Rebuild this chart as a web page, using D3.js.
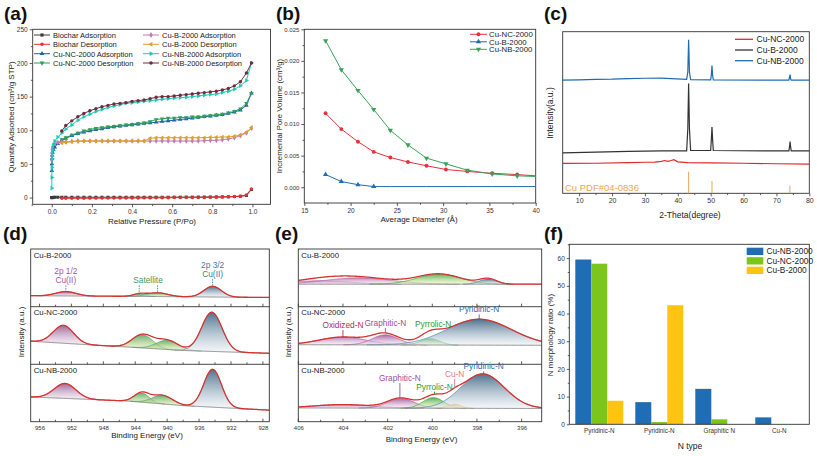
<!DOCTYPE html>
<html>
<head>
<meta charset="utf-8">
<script src="https://cdn.jsdelivr.net/npm/d3@7"></script>
<style>
  body { margin: 0; background: #fff; }
  text { font-family: Arial, "Liberation Sans", sans-serif; }
</style>
</head>
<body>
<svg id="fig" width="817" height="456"></svg>
<script>
// ---------- (a) N2 isotherms ----------
const pAds = [0.0002,0.0005,0.001,0.002,0.004,0.008,0.015,0.03,0.05,0.07,0.1,0.13,0.16,0.19,0.22,0.25,0.28,0.31,0.34,0.37,0.4,0.43,0.46,0.49,0.52,0.55,0.58,0.61,0.64,0.67,0.7,0.73,0.76,0.79,0.82,0.85,0.88,0.91,0.94,0.97,0.995];
const pDes = [0.995,0.97,0.94,0.91,0.88,0.85,0.82,0.79,0.76,0.73,0.7,0.67,0.64,0.61,0.58,0.55,0.52,0.49,0.46,0.43,0.4,0.37,0.34,0.31,0.28,0.25,0.22,0.19,0.16,0.13,0.1,0.07,0.05];
const biocharAds = [0,0,0,0,0,0.3,0.5,0.5,0.5,0.5,0.5,0.5,0.5,0.5,0.5,0.5,0.5,0.5,0.5,0.5,0.5,0.5,0.5,0.5,0.5,0.5,0.5,0.6,0.6,0.7,0.7,0.8,0.8,0.9,1,1,1.2,1.5,2,3,12];
const biocharDes = [13,4,2,1.5,1,0.8,0.5,0.3,0,0,0,0,0,0,-0.2,-0.3,-0.4,-0.5,-0.5,-0.6,-0.6,-0.7,-0.7,-0.8,-0.8,-0.8,-0.9,-0.9,-1,-1,-1,-1,-1];
const cuNCAds = [40,50,58,63,67,71,75,80,85,88,92,95,97,99,101,102,104,105,106,107,108,109,110,111,112,113,114,115,116,117,118,119,120,121,122,123,125,127,130,137,155];
const cuNCDes = [155,140,132,128,126,124,123,122,121,120,120,119,119,118,118,117,116,113,111,110,109,108,107,106,105,104,103,101,99,96,93,89,86];
const cuBAds = [55,62,67,71,75,78,80,82,83,83,83.5,84,84,84,84,84,84,84,84,84,84,84,84,84,84,84,84,84,84,84,84,84,84.5,85,85,86,87,89,92,96,103];
const cuBDes = [104,97,93,91,90,90,89.5,89.5,89,89,89,89,89,89,89,89,89,88,84,84,84,84,84,84,84,84,84,84,84,83.5,83,82,81];
const cuNBAds = [14,30,45,58,70,78,84,90,96,102,108,115,120,124,128,131,134,136,138,140,141,142,143,144,145,146,147,148,148.5,149,150,151,152,153,154,156,158,161,166,174,200];
const cuNBDes = [200,185,172,166,162,160,158,157,156,155,154,153,152,151,150,150,149,147,145,144,143,141,140,139,137,135,132,129,125,120,114,107,99];

// ---------- (b) pore size distribution ----------
const poreDiam = [17.3,19.0,20.8,22.5,24.3,26.2,28.2,30.3,32.6,35.3,38.0,40.0];
const poreNC = [0.0117,0.0092,0.0072,0.0056,0.0047,0.0040,0.0034,0.0028,0.0025,0.0022,0.0020,0.0018];
const poreB  = [0.0020,0.0009,0.0004,0.0001,0.0001,0.0001,0.0001,0.0001,0.0001,0.0001,0.0001,0.0001];
const poreNB = [0.0232,0.0186,0.0153,0.0123,0.0090,0.0067,0.0046,0.0037,0.0027,0.0021,0.0018,0.0017];

// ---------- (c) XRD (2theta, stacked intensity) ----------
const xrdNB = [[5,70],[10,70.2],[15,70.5],[20,70.6],[25,71],[30,71.2],[35,71.3],[38,71],[42.7,70.5],[43.05,75],[43.3,95],[43.55,75],[43.9,70.3],[50,70.2],[50.2,73],[50.4,79],[50.6,73],[50.8,70.2],[73.8,70],[74.0,72],[74.15,73.5],[74.3,71],[74.5,70],[80,70]];
const xrdB = [[5,25],[15,25.5],[25,26],[35,26.3],[42.7,26.2],[43.05,40],[43.3,68],[43.55,40],[43.9,26.5],[50,26.5],[50.2,33],[50.4,41],[50.6,33],[50.8,26.5],[73.8,26.2],[74.0,29],[74.15,32],[74.3,29],[74.5,26.2],[80,26.2]];
const xrdNC = [[5,18.5],[15,18.6],[25,19],[30,19.2],[33,19.3],[35,19.8],[36,20.3],[37,19.8],[38,20.3],[38.8,20.8],[40,19.5],[43,19],[50,18.8],[60,18.6],[70,18.3],[80,18]];
const pdfPeaks = [43.3, 50.4, 74.1];
const pdfHeights = [13.4, 7.6, 4.7];

// ---------- (d) Cu 2p XPS ----------
const xpsSamples = ["Cu-B-2000", "Cu-NC-2000", "Cu-NB-2000"];
const cuBackground = [
  [[957,1.9],[945,1.8],[927,1.6]],
  [[957,4.0],[950,3.4],[945,3.0],[938,2.4],[927,1.9]],
  [[957,4.3],[950,3.9],[945,3.6],[938,2.8],[927,2.0]]
];
const cuPeakTypes = ["p12", "sat", "sat", "p32"];
const cuPeakCenters = [[952.7,943.5,941.2,934.3],[953.0,943.1,940.0,934.4],[952.8,943.2,940.6,934.3]];
const cuPeakHeights = [[0.75,0.4,0.65,1.85],[3.1,2.3,1.6,6.8],[2.6,1.6,1.5,6.6]];
const cuPeakWidths  = [[3.0,1.8,3.0,2.6],[3.0,3.0,3.2,3.0],[3.2,2.2,3.0,2.6]];

// ---------- (e) N 1s XPS ----------
const nBackground = [
  [[406,3.9],[395,3.9]],
  [[406,3.4],[395,3.3]],
  [[406,2.4],[395,2.3]]
];
const nPeakTypes   = [["ox","ox","pyr","pyd"],["ox","gra","pyr","pyd"],["ox","gra","pyr","cun","pyd"]];
const nPeakCenters = [[405.0,403.3,399.7,397.5],[404.0,402.1,400.1,397.9],[404.0,401.4,399.95,399.0,397.75]];
const nPeakHeights = [[0.6,1.1,1.75,0.9],[1.35,1.75,1.1,4.5],[0.6,1.7,1.85,0.7,6.0]];
const nPeakWidths  = [[3.0,3.5,2.3,0.9],[2.5,1.4,1.0,3.4],[3.0,1.4,1.1,0.7,2.3]];

// ---------- (f) N species ----------
const nTypes = ["Pyridinic-N", "Pyridinic-N", "Graphitic N", "Cu-N"];
const nSeries = ["Cu-NB-2000", "Cu-NC-2000", "Cu-B-2000"];
const ratioNB = [59.5, 8.0, 12.8, 2.5];
const ratioNC = [58.0, 0.8, 1.8, 0];
const ratioB  = [8.5, 43.0, 0, 0];

// =====================================================================
const svg = d3.select("#fig");
const defs = svg.append("defs");
const INK = "#333";

const gauss = (x, c, h, w) => h * Math.exp(-4 * Math.LN2 * (x - c) * (x - c) / (w * w));
// background line (points listed from high to low binding energy)
const bgAt = (pts, x) => {
  for (let i = 0; i < pts.length - 1; i++) {
    const a = pts[i], b = pts[i + 1];
    if (x <= a[0] && x >= b[0]) return a[1] + (b[1] - a[1]) * (a[0] - x) / (a[0] - b[0]);
  }
  return x > pts[0][0] ? pts[0][1] : pts[pts.length - 1][1];
};

const addText = (x, y, str, size, opts = {}) => {
  const t = svg.append("text").attr("x", x).attr("y", y).text(str)
    .attr("font-size", size).attr("fill", opts.fill || "#222")
    .attr("text-anchor", opts.anchor || "start");
  if (opts.weight) t.attr("font-weight", opts.weight);
  if (opts.rotate) t.attr("transform", `rotate(-90,${x},${y})`);
  return t;
};

const frame = (x0, y0, x1, y1) => svg.append("rect")
  .attr("x", x0).attr("y", y0).attr("width", x1 - x0).attr("height", y1 - y0)
  .attr("fill", "none").attr("stroke", INK).attr("stroke-width", 0.9);

const styleAxis = (g, fs) => {
  g.select(".domain").remove();
  g.selectAll("line").attr("stroke", INK).attr("stroke-width", 0.8);
  g.selectAll("text").attr("font-size", fs).attr("fill", "#333")
    .attr("font-family", 'Arial, "Liberation Sans", sans-serif');
};

const marker = (type, size) => d3.symbol().type(type).size(size);

// panel letters
[["(a)", 4, 20], ["(b)", 276, 20], ["(c)", 544, 20], ["(d)", 3, 240], ["(e)", 275, 240], ["(f)", 544, 240]]
  .forEach(([s, x, y]) => addText(x, y, s, 19, { weight: "bold", fill: "#111" }));

// ============================ (a) ============================
(() => {
  const x = d3.scaleLinear().domain([-0.095, 1.09]).range([32.7, 270.5]);
  const y = d3.scaleLinear().domain([-10, 250]).range([204.3, 29.3]);

  const gx = svg.append("g").attr("transform", "translate(0,204.3)")
    .call(d3.axisBottom(x).tickValues(d3.range(0, 1.01, 0.2)).tickFormat(d3.format(".1f")).tickSize(3).tickPadding(2));
  styleAxis(gx, 6.5);
  const gxm = svg.append("g").attr("transform", "translate(0,204.3)")
    .call(d3.axisBottom(x).tickValues([-0.1, 0.1, 0.3, 0.5, 0.7, 0.9]).tickFormat("").tickSize(1.8));
  styleAxis(gxm, 6);
  const gy = svg.append("g").attr("transform", "translate(32.7,0)")
    .call(d3.axisLeft(y).tickValues(d3.range(0, 251, 50)).tickSize(3).tickPadding(2));
  styleAxis(gy, 6.5);
  const gym = svg.append("g").attr("transform", "translate(32.7,0)")
    .call(d3.axisLeft(y).tickValues([25, 75, 125, 175, 225]).tickFormat("").tickSize(1.8));
  styleAxis(gym, 6);
  frame(32.7, 29.3, 270.5, 204.3);

  addText(152, 224, "Relative Pressure (P/Po)", 8, { anchor: "middle" });
  addText(14, 117, "Quantity Adsorbed (cm³/g STP)", 8, { anchor: "middle", rotate: true });

  const series = [
    { name: "Biochar Adsorption",   p: pAds, v: biocharAds, color: "#3a3a3a", sym: d3.symbolSquare, rot: 0 },
    { name: "Biochar Desorption",   p: pDes, v: biocharDes, color: "#e4312f", sym: d3.symbolCircle, rot: 0 },
    { name: "Cu-NC-2000 Adsorption", p: pAds, v: cuNCAds, color: "#1d5fb0", sym: d3.symbolTriangle, rot: 0 },
    { name: "Cu-NC-2000 Desorption", p: pDes, v: cuNCDes, color: "#2f9e5c", sym: d3.symbolTriangle, rot: 180 },
    { name: "Cu-B-2000 Adsorption",  p: pAds, v: cuBAds, color: "#c07ab5", sym: d3.symbolDiamond, rot: 0 },
    { name: "Cu-B-2000 Desorption",  p: pDes, v: cuBDes, color: "#dca12a", sym: d3.symbolTriangle, rot: -90 },
    { name: "Cu-NB-2000 Adsorption", p: pAds, v: cuNBAds, color: "#1fc9b4", sym: d3.symbolTriangle, rot: 90 },
    { name: "Cu-NB-2000 Desorption", p: pDes, v: cuNBDes, color: "#74293c", sym: d3.symbolCircle, rot: 0 }
  ];
  const line = d3.line().x(d => x(d[0])).y(d => y(d[1]));
  const g = svg.append("g");
  series.forEach(s => {
    const pts = s.p.map((p, i) => [p, s.v[i]]);
    g.append("path").datum(pts).attr("d", line).attr("fill", "none")
      .attr("stroke", s.color).attr("stroke-width", 1);
    g.selectAll(null).data(pts).enter().append("path")
      .attr("d", marker(s.sym, 9))
      .attr("transform", d => `translate(${x(d[0])},${y(d[1])}) rotate(${s.rot})`)
      .attr("fill", s.color);
  });

  // legend: two columns
  const rows = [35, 44.3, 53.7, 63];
  series.forEach((s, i) => {
    const col = i < 4 ? 0 : 1, r = rows[i % 4];
    const lx = col ? 143 : 34;
    svg.append("line").attr("x1", lx).attr("x2", lx + 16).attr("y1", r).attr("y2", r)
      .attr("stroke", s.color).attr("stroke-width", 1);
    svg.append("path").attr("d", marker(s.sym, 10)())
      .attr("transform", `translate(${lx + 8},${r}) rotate(${s.rot})`).attr("fill", s.color);
    addText(lx + 19, r + 2.8, s.name, 7.5, { fill: "#222" });
  });
})();

// ============================ (b) ============================
(() => {
  const x = d3.scaleLinear().domain([15, 40]).range([304.3, 535.7]);
  const y = d3.scaleLinear().domain([-0.0025, 0.025]).range([203, 29.3]);

  const gx = svg.append("g").attr("transform", "translate(0,203)")
    .call(d3.axisBottom(x).tickValues(d3.range(15, 41, 5)).tickSize(3).tickPadding(2));
  styleAxis(gx, 6.5);
  const gxm = svg.append("g").attr("transform", "translate(0,203)")
    .call(d3.axisBottom(x).tickValues([17.5, 22.5, 27.5, 32.5, 37.5]).tickFormat("").tickSize(1.8));
  styleAxis(gxm, 6);
  const gy = svg.append("g").attr("transform", "translate(304.3,0)")
    .call(d3.axisLeft(y).tickValues(d3.range(0, 0.0251, 0.005)).tickFormat(d3.format(".3f")).tickSize(3).tickPadding(2));
  styleAxis(gy, 6);
  const gym = svg.append("g").attr("transform", "translate(304.3,0)")
    .call(d3.axisLeft(y).tickValues([0.0025, 0.0075, 0.0125, 0.0175, 0.0225]).tickFormat("").tickSize(1.8));
  styleAxis(gym, 6);
  frame(304.3, 29.3, 535.7, 203);

  addText(419, 222, "Average Diameter (Å)", 8, { anchor: "middle" });
  addText(282, 116, "Incremental Pore Volume (cm³/g)", 7.8, { anchor: "middle", rotate: true });

  const series = [
    { name: "Cu-NC-2000", v: poreNC, color: "#e2333b", sym: d3.symbolCircle, rot: 0, marks: 11 },
    { name: "Cu-B-2000",  v: poreB,  color: "#1f6db4", sym: d3.symbolTriangle, rot: 0, marks: 4 },
    { name: "Cu-NB-2000", v: poreNB, color: "#3aa35a", sym: d3.symbolTriangle, rot: 180, marks: 11 }
  ];
  const line = d3.line().x(d => x(d[0])).y(d => y(d[1]));
  series.forEach((s, k) => {
    const pts = poreDiam.map((d, i) => [d, s.v[i]]);
    svg.append("path").datum(pts).attr("d", line).attr("fill", "none")
      .attr("stroke", s.color).attr("stroke-width", 1);
    svg.selectAll(null).data(pts.slice(0, s.marks)).enter().append("path")
      .attr("d", marker(s.sym, 12))
      .attr("transform", d => `translate(${x(d[0])},${y(d[1])}) rotate(${s.rot})`)
      .attr("fill", s.color);
    const r = 34.3 + k * 7.5;
    svg.append("line").attr("x1", 470).attr("x2", 487).attr("y1", r).attr("y2", r)
      .attr("stroke", s.color).attr("stroke-width", 1);
    svg.append("path").attr("d", marker(s.sym, 12)())
      .attr("transform", `translate(478.5,${r}) rotate(${s.rot})`).attr("fill", s.color);
    addText(489, r + 2.8, s.name, 7.8, { fill: "#222" });
  });
})();

// ============================ (c) ============================
(() => {
  const x = d3.scaleLinear().domain([5, 80]).range([562.7, 809.3]);
  const y = d3.scaleLinear().domain([0, 100]).range([193.3, 31.7]);

  const gx = svg.append("g").attr("transform", "translate(0,193.3)")
    .call(d3.axisBottom(x).tickValues(d3.range(10, 81, 10)).tickSize(3).tickPadding(2));
  styleAxis(gx, 7);
  const gxm = svg.append("g").attr("transform", "translate(0,193.3)")
    .call(d3.axisBottom(x).tickValues(d3.range(15, 80, 10)).tickFormat("").tickSize(1.8));
  styleAxis(gxm, 6);
  frame(562.7, 31.7, 809.3, 193.3);

  addText(690, 218, "2-Theta(degree)", 8.5, { anchor: "middle" });
  addText(553, 113, "Intensity(a.u.)", 8.5, { anchor: "middle", rotate: true });

  const line = d3.line().x(d => x(d[0])).y(d => y(d[1]));
  const traces = [
    { name: "Cu-NC-2000", pts: xrdNC, color: "#e0262b" },
    { name: "Cu-B-2000",  pts: xrdB,  color: "#333333" },
    { name: "Cu-NB-2000", pts: xrdNB, color: "#1f6bb0" }
  ];
  traces.forEach((t, k) => {
    svg.append("path").datum(t.pts).attr("d", line).attr("fill", "none")
      .attr("stroke", t.color).attr("stroke-width", 1.2);
    const r = 39.3 + k * 10.7;
    svg.append("line").attr("x1", 735).attr("x2", 753).attr("y1", r).attr("y2", r)
      .attr("stroke", t.color).attr("stroke-width", 1.3);
    addText(756.5, r + 3, t.name, 8.5, { fill: "#222" });
  });
  pdfPeaks.forEach((p, i) => {
    svg.append("line").attr("x1", x(p)).attr("x2", x(p)).attr("y1", y(0)).attr("y2", y(pdfHeights[i]))
      .attr("stroke", "#f0a550").attr("stroke-width", 1);
  });
  addText(565, 191, "Cu PDF#04-0836", 9.5, { fill: "#f0a550" });
})();

// ====================== XPS helper (d, e) ======================
const peakStyle = {
  p12: { stroke: "#a866a3", top: "#8f4f8c", bottom: "#f1e4f0" },
  sat: { stroke: "#4fa86c", top: "#4f9e5a", bottom: "#eef5b0" },
  p32: { stroke: "#5aa0b8", top: "#2e5a7a", bottom: "#eaf0f6" },
  ox:  { stroke: "#b36aab", top: "#b070a8", bottom: "#f5e8f3" },
  gra: { stroke: "#a95aa3", top: "#9a4c95", bottom: "#f5e8f3" },
  pyr: { stroke: "#3aaa3a", top: "#3ea23e", bottom: "#eef8b8" },
  cun: { stroke: "#f0a040", top: "#f0a040", bottom: "#fbecd0" },
  pyd: { stroke: "#3f86b5", top: "#2e5a7a", bottom: "#eaf0f6" }
};
Object.entries(peakStyle).forEach(([k, s]) => {
  const gr = defs.append("linearGradient").attr("id", "gr-" + k).attr("x1", 0).attr("x2", 0).attr("y1", 0).attr("y2", 1);
  gr.append("stop").attr("offset", "0%").attr("stop-color", s.top).attr("stop-opacity", 0.85);
  gr.append("stop").attr("offset", "100%").attr("stop-color", s.bottom).attr("stop-opacity", 0.5);
});

const subTops = [249, 306.7, 364.3, 421.7];

function xpsPanel(cfg) {
  const { id, x, bg, types, centers, heights, widths, step } = cfg;
  const [lo, hi] = [d3.min(x.domain()), d3.max(x.domain())];
  const grid = d3.range(lo, hi + step / 2, step);
  xpsSamples.forEach((name, k) => {
    const top = subTops[k], bot = subTops[k + 1];
    const y = d3.scaleLinear().domain([0, 10]).range([bot, top]);
    const clipId = `clip-${id}-${k}`;
    defs.append("clipPath").attr("id", clipId).append("rect")
      .attr("x", x.range()[0]).attr("y", top).attr("width", x.range()[1] - x.range()[0]).attr("height", bot - top);
    const g = svg.append("g").attr("clip-path", `url(#${clipId})`);

    // components
    types[k].forEach((t, j) => {
      const c = centers[k][j], h = heights[k][j], w = widths[k][j];
      const pts = grid.filter(e => gauss(e, c, h, w) > 0.01).map(e => [e, bgAt(bg[k], e), bgAt(bg[k], e) + gauss(e, c, h, w)]);
      g.append("path").datum(pts)
        .attr("d", d3.area().x(d => x(d[0])).y0(d => y(d[1])).y1(d => y(d[2])))
        .attr("fill", `url(#gr-${t})`);
      g.append("path").datum(pts)
        .attr("d", d3.line().x(d => x(d[0])).y(d => y(d[2])))
        .attr("fill", "none").attr("stroke", peakStyle[t].stroke).attr("stroke-width", 0.7);
    });
    // background
    g.append("path").datum(grid)
      .attr("d", d3.line().x(e => x(e)).y(e => y(bgAt(bg[k], e))))
      .attr("fill", "none").attr("stroke", "#777").attr("stroke-width", 0.8);
    // envelope
    const env = e => bgAt(bg[k], e) + d3.sum(types[k], (t, j) => gauss(e, centers[k][j], heights[k][j], widths[k][j]));
    g.append("path").datum(grid)
      .attr("d", d3.line().x(e => x(e)).y(e => y(env(e))))
      .attr("fill", "none").attr("stroke", "#d7322e").attr("stroke-width", 1.3);

    // inner ticks on each sub-panel bottom
    cfg.minor.forEach(v => svg.append("line").attr("x1", x(v)).attr("x2", x(v))
      .attr("y1", bot).attr("y2", bot - (cfg.major.includes(v) ? 3 : 2)).attr("stroke", INK).attr("stroke-width", 0.8));
    if (k < 2) svg.append("line").attr("x1", x.range()[0]).attr("x2", x.range()[1]).attr("y1", bot).attr("y2", bot)
      .attr("stroke", INK).attr("stroke-width", 0.9);
    addText(x.range()[0] + 3, top + 8.5, name, 7.8, { fill: "#222" });

    (cfg.labels[k] || []).forEach(l => {
      const lines = l.text.split("|");
      lines.forEach((s, i) => addText(x(l.at), y(l.ty) + i * 9, s, 8.3, { anchor: "middle", fill: l.color }));
      (l.marks || [l.at]).forEach(m => {
        svg.append("line").attr("x1", x(m)).attr("x2", x(m))
          .attr("y1", y(l.ty) + (lines.length - 1) * 9 + 2).attr("y2", y(env(m)))
          .attr("stroke", l.color).attr("stroke-width", 0.9)
          .attr("stroke-dasharray", l.dash ? "1.5,1" : null);
      });
    });
  });
  frame(x.range()[0], subTops[0], x.range()[1], subTops[3]);
  const gx = svg.append("g").attr("transform", `translate(0,${subTops[3]})`)
    .call(d3.axisBottom(x).tickValues(cfg.major).tickSize(0).tickPadding(4));
  styleAxis(gx, 6);
}

// ============================ (d) ============================
(() => {
  const x = d3.scaleLinear().domain([957.1, 927.2]).range([30.7, 269.3]);
  xpsPanel({
    id: "d", x, bg: cuBackground, types: [cuPeakTypes, cuPeakTypes, cuPeakTypes],
    centers: cuPeakCenters, heights: cuPeakHeights, widths: cuPeakWidths, step: 0.1,
    major: d3.range(928, 957, 4), minor: d3.range(928, 957, 2),
    labels: [[
      { text: "2p 1/2|Cu(II)", at: 952.7, ty: 5.6, color: "#a3589d", dash: true },
      { text: "Satellite", at: 942.4, ty: 4.05, color: "#3d9a62", dash: true, marks: [943.5, 941.2] },
      { text: "2p 3/2|Cu(II)", at: 934.3, ty: 6.67, color: "#3b7ca3", dash: true }
    ]]
  });
  addText(147, 438, "Binding Energy (eV)", 8, { anchor: "middle" });
  addText(24, 332, "Intensity (a.u.)", 8, { anchor: "middle", rotate: true });
})();

// ============================ (e) ============================
(() => {
  const x = d3.scaleLinear().domain([406, 395.1]).range([298.3, 541.7]);
  xpsPanel({
    id: "e", x, bg: nBackground, types: nPeakTypes,
    centers: nPeakCenters, heights: nPeakHeights, widths: nPeakWidths, step: 0.04,
    major: d3.range(396, 407, 2), minor: d3.range(396, 407, 1),
    labels: [[], [
      { text: "Oxidized-N", at: 404.0, ty: 6.3, color: "#b2304f" },
      { text: "Graphitic-N", at: 402.1, ty: 6.65, color: "#a24c9c" },
      { text: "Pyrrolic-N", at: 399.96, ty: 6.4, color: "#2e9a2e" },
      { text: "Pyridinic-N", at: 397.9, ty: 9.0, color: "#2c6ab0" }
    ], [
      { text: "Graphitic-N", at: 401.45, ty: 7.07, color: "#a24c9c" },
      { text: "Pyrrolic-N", at: 399.9, ty: 5.6, color: "#2e9a2e" },
      { text: "Cu-N", at: 399.0, ty: 7.8, color: "#e07b7b" },
      { text: "Pyridinic-N", at: 397.7, ty: 9.1, color: "#2c6ab0" }
    ]]
  });
  addText(421.5, 442, "Binding Energy (eV)", 8, { anchor: "middle" });
  addText(291, 332, "Intensity (a.u.)", 8, { anchor: "middle", rotate: true });
})();

// ============================ (f) ============================
(() => {
  const x0 = d3.scaleBand().domain(d3.range(nTypes.length)).range([569.3, 809.3]).paddingInner(0.2).paddingOuter(0.1);
  const x1 = d3.scaleBand().domain(nSeries).range([0, x0.bandwidth()]);
  const y = d3.scaleLinear().domain([0, 65]).range([424.3, 244.3]);
  const colors = d3.scaleOrdinal().domain(nSeries).range(["#1f6db5", "#7cc51b", "#ffc312"]);
  const values = [ratioNB, ratioNC, ratioB];

  const gy = svg.append("g").attr("transform", "translate(569.3,0)")
    .call(d3.axisLeft(y).tickValues(d3.range(0, 61, 10)).tickSize(2.5).tickPadding(2));
  styleAxis(gy, 6.5);
  const gym = svg.append("g").attr("transform", "translate(569.3,0)")
    .call(d3.axisLeft(y).tickValues(d3.range(5, 66, 10)).tickFormat("").tickSize(1.5));
  styleAxis(gym, 6);
  const gx = svg.append("g").attr("transform", "translate(0,424.3)")
    .call(d3.axisBottom(x0).tickFormat(i => nTypes[i]).tickSize(0).tickPadding(4));
  styleAxis(gx, 6.3);

  nSeries.forEach((s, k) => {
    svg.selectAll(null).data(values[k]).enter().append("rect")
      .attr("x", (d, i) => x0(i) + x1(s)).attr("width", x1.bandwidth())
      .attr("y", d => y(d)).attr("height", d => y(0) - y(d))
      .attr("fill", colors(s));
    const r = 247.7 + k * 9.5;
    svg.append("rect").attr("x", 746.7).attr("y", r).attr("width", 16.6).attr("height", 7.3).attr("fill", colors(s));
    addText(766.5, r + 6.5, s, 8.3, { fill: "#222" });
  });
  frame(569.3, 244.3, 809.3, 424.3);
  addText(690, 449, "N type", 8.5, { anchor: "middle" });
  addText(553, 335, "N morphology ratio (%)", 8, { anchor: "middle", rotate: true });
})();
</script>
</body>
</html>
